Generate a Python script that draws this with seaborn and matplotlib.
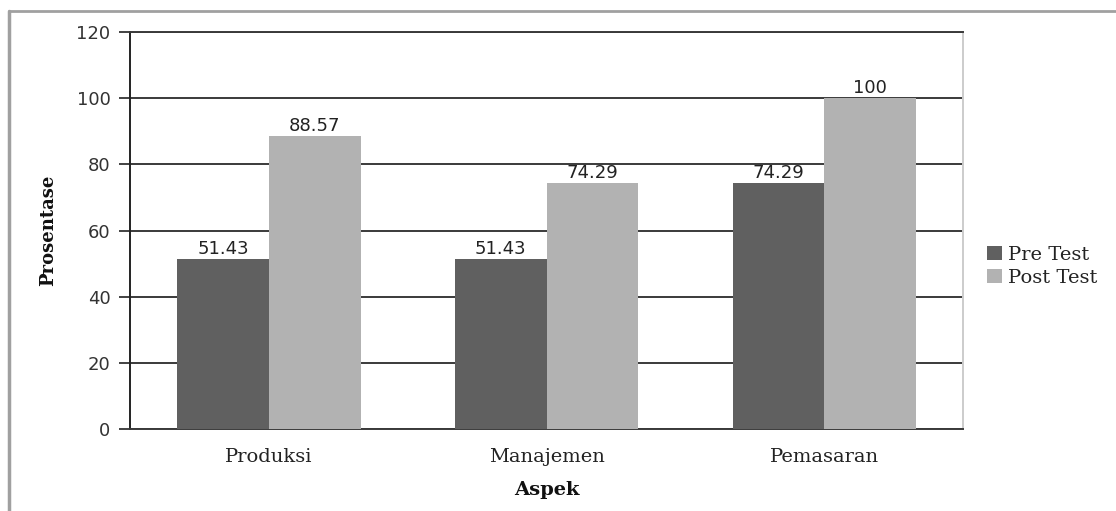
import seaborn as sns
import pandas as pd
import matplotlib.pyplot as plt

aspek = ["Produksi", "Manajemen", "Pemasaran"]
pre_test = [51.43, 51.43, 74.29]
post_test = [88.57, 74.29, 100]
y_ticks = [0, 20, 40, 60, 80, 100, 120]

df = pd.DataFrame({
    "Aspek": aspek * 2,
    "Prosentase": pre_test + post_test,
    "Tes": ["Pre Test"] * 3 + ["Post Test"] * 3,
})

sns.set_style("white")
serif = ["DejaVu Serif"]

fig = plt.figure(figsize=(11.16, 5.11), dpi=100)
ax = fig.add_axes([0.1165, 0.1605, 0.7465, 0.7765])

sns.barplot(data=df, x="Aspek", y="Prosentase", hue="Tes",
            palette=["#606060", "#b2b2b2"], width=0.66, saturation=1,
            linewidth=0, ax=ax, zorder=3)

for c in ax.containers:
    ax.bar_label(c, labels=[f"{v:g}" for v in c.datavalues], padding=1,
                 fontsize=13, color="#222222", family="DejaVu Sans")

ax.set_ylim(0, 120)
ax.set_yticks(y_ticks)
ax.yaxis.grid(True, color="#3a3a3a", linewidth=1.4, zorder=0)
ax.set_axisbelow(True)
ax.tick_params(axis="y", which="both", left=True, length=8, width=1.2,
               color="#222222", labelsize=13, labelcolor="#333333", pad=6)
ax.tick_params(axis="x", bottom=False, labelsize=14, pad=10)
for lab in ax.get_xticklabels():
    lab.set_family(serif)
    lab.set_color("#222222")

for side in ["top", "bottom"]:
    ax.spines[side].set_color("#3a3a3a")
    ax.spines[side].set_linewidth(1.4)
ax.spines["left"].set_color("#222222")
ax.spines["left"].set_linewidth(1.4)
ax.spines["right"].set_color("#cccccc")
ax.spines["right"].set_linewidth(1.4)

ax.set_ylabel("Prosentase", family=serif, fontweight="bold", fontsize=13,
              color="#111111", labelpad=14)
ax.set_xlabel("Aspek", family=serif, fontweight="bold", fontsize=14,
              color="#111111", labelpad=11)

leg = ax.legend(loc="center left", bbox_to_anchor=(1.008, 0.41), frameon=False,
                prop={"family": serif, "size": 14}, handlelength=0.75,
                handleheight=0.75, handletextpad=0.3, labelspacing=0.25)
for t in leg.get_texts():
    t.set_color("#222222")

# outer frame (top and left edges only visible)
fig.add_artist(plt.Line2D([0.008, 1.0], [0.978, 0.978], color="#a0a0a0",
                          linewidth=2, transform=fig.transFigure))
fig.add_artist(plt.Line2D([0.008, 0.008], [0.0, 0.978], color="#a0a0a0",
                          linewidth=2.5, transform=fig.transFigure))

fig.savefig("out.png", dpi=100)
